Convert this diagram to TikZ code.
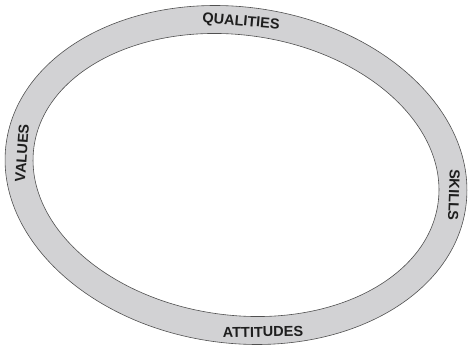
\documentclass[tikz,border=0pt]{standalone}
\usepackage{fontspec}
\setmainfont{Liberation Sans}
\definecolor{ringgray}{RGB}{210,210,212}
\definecolor{ringline}{RGB}{80,80,80}
\definecolor{labeltext}{RGB}{30,30,30}
\begin{document}
\begin{tikzpicture}[x=1pt,y=-1pt,
  lbl/.style={inner sep=0pt, text=labeltext, font=\fontsize{14.5}{15}\selectfont\bfseries}]
\useasboundingbox (0,0) rectangle (470,350);
\begin{scope}[rotate around={-8:(236,175)}]
  \fill[ringgray, even odd rule] (236,175) ellipse [x radius=232pt, y radius=168pt]
                                  (236,175) ellipse [x radius=204pt, y radius=140pt];
  \draw[ringline, line width=0.6pt] (236,175) ellipse [x radius=232pt, y radius=168pt];
  \draw[ringline, line width=0.6pt] (236,175) ellipse [x radius=204pt, y radius=140pt];
\end{scope}
\node[lbl, rotate=-5] (q) at (241,22) {QUALITIES};
\node[lbl, rotate=86] (v) at (22,153) {VALUES};
\node[lbl, rotate=-92] (s) at (454,195) {SKILLS};
\node[lbl, rotate=1] (a) at (263,332) {ATTITUDES};
\end{tikzpicture}
\end{document}
